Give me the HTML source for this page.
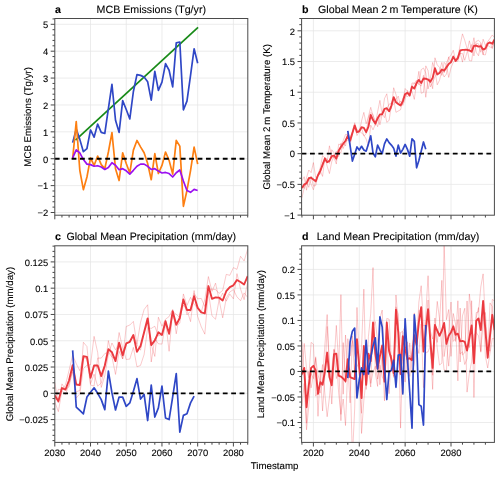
<!DOCTYPE html><html><head><meta charset="utf-8"><style>html,body{margin:0;padding:0;background:#fff;width:500px;height:477px;overflow:hidden}svg{display:block;will-change:transform} text{text-rendering:geometricPrecision;stroke:#000;stroke-width:0.1px}</style></head><body><svg width="500" height="477" viewBox="0 0 500 477" font-family='"Liberation Sans", sans-serif' fill="#000">
<rect width="500" height="477" fill="#ffffff"/>
<path d="M90.52 18.50V215.20M126.24 18.50V215.20M161.96 18.50V215.20M197.68 18.50V215.20M233.40 18.50V215.20M54.80 212.50H247.80M54.80 185.61H247.80M54.80 158.73H247.80M54.80 131.84H247.80M54.80 104.96H247.80M54.80 78.07H247.80M54.80 51.19H247.80M54.80 24.30H247.80" stroke="#e6e6e6" stroke-width="0.75" fill="none"/>
<clipPath id="ca"><rect x="54.8" y="18.5" width="193.00" height="196.70"/></clipPath>
<path d="M75.52 140.18 L198.04 27.26" stroke="#178a17" stroke-width="1.7" fill="none" stroke-linejoin="round" stroke-linecap="butt" clip-path="url(#ca)" />
<path d="M72.66 142.60 L76.23 129.15 L79.80 139.37 L83.38 151.74 L86.95 148.51 L90.52 129.96 L94.09 137.22 L97.66 124.05 L101.24 132.38 L104.81 133.46 L108.38 108.72 L111.95 84.26 L115.52 120.28 L119.10 132.38 L122.67 100.66 L126.24 109.53 L129.81 118.94 L133.38 91.51 L136.96 74.58 L140.53 75.38 L144.10 77.00 L147.67 81.84 L151.24 100.12 L154.82 71.35 L158.39 90.44 L161.96 82.10 L165.53 63.55 L169.10 70.27 L172.68 86.94 L176.25 42.85 L179.82 42.04 L183.39 109.80 L186.96 101.19 L190.54 75.38 L194.11 48.77 L197.68 63.28" stroke="#2f47c6" stroke-width="1.7" fill="none" stroke-linejoin="round" stroke-linecap="butt" clip-path="url(#ca)" />
<path d="M72.66 158.73 L76.23 121.63 L79.80 170.29 L83.38 189.65 L86.95 177.01 L90.52 157.92 L94.09 165.45 L97.66 156.04 L101.24 164.64 L104.81 168.68 L108.38 152.01 L111.95 132.65 L115.52 168.68 L119.10 180.51 L122.67 152.81 L126.24 163.57 L129.81 172.98 L133.38 150.13 L136.96 140.45 L140.53 146.90 L144.10 152.81 L147.67 163.57 L151.24 179.70 L154.82 153.62 L158.39 173.52 L161.96 165.45 L165.53 152.01 L169.10 160.34 L172.68 174.05 L176.25 140.45 L179.82 146.09 L183.39 206.32 L186.96 190.45 L190.54 170.56 L194.11 147.17 L197.68 164.11" stroke="#fd7f12" stroke-width="1.7" fill="none" stroke-linejoin="round" stroke-linecap="butt" clip-path="url(#ca)" />
<path d="M72.66 157.92 L76.23 149.86 L79.80 152.81 L83.38 159.54 L86.95 164.11 L90.52 164.64 L94.09 166.26 L97.66 165.72 L101.24 167.06 L104.81 169.48 L108.38 167.60 L111.95 162.76 L115.52 165.18 L119.10 169.75 L122.67 168.68 L126.24 170.83 L129.81 174.05 L133.38 170.29 L136.96 166.26 L140.53 164.11 L144.10 164.11 L147.67 166.26 L151.24 169.48 L154.82 168.68 L158.39 171.10 L161.96 172.98 L165.53 172.44 L169.10 173.52 L172.68 177.01 L176.25 172.71 L179.82 170.02 L183.39 181.04 L186.96 190.45 L190.54 192.34 L194.11 189.38 L197.68 190.45" stroke="#9b10f0" stroke-width="1.7" fill="none" stroke-linejoin="round" stroke-linecap="butt" clip-path="url(#ca)" />
<path d="M54.8 158.73H247.8" stroke="#000" stroke-width="1.8" stroke-dasharray="4.8 3.6" stroke-dashoffset="0" fill="none"/>
<path d="M54.80 215.20v4.1M90.52 215.20v4.1M126.24 215.20v4.1M161.96 215.20v4.1M197.68 215.20v4.1M233.40 215.20v4.1M61.94 215.20v2.3M69.09 215.20v2.3M76.23 215.20v2.3M83.38 215.20v2.3M97.66 215.20v2.3M104.81 215.20v2.3M111.95 215.20v2.3M119.10 215.20v2.3M133.38 215.20v2.3M140.53 215.20v2.3M147.67 215.20v2.3M154.82 215.20v2.3M169.10 215.20v2.3M176.25 215.20v2.3M183.39 215.20v2.3M190.54 215.20v2.3M204.82 215.20v2.3M211.97 215.20v2.3M219.11 215.20v2.3M226.26 215.20v2.3M240.54 215.20v2.3M247.69 215.20v2.3M54.80 212.50h-4.1M54.80 185.61h-4.1M54.80 158.73h-4.1M54.80 131.84h-4.1M54.80 104.96h-4.1M54.80 78.07h-4.1M54.80 51.19h-4.1M54.80 24.30h-4.1M54.80 207.12h-2.3M54.80 201.75h-2.3M54.80 196.37h-2.3M54.80 190.99h-2.3M54.80 180.24h-2.3M54.80 174.86h-2.3M54.80 169.48h-2.3M54.80 164.11h-2.3M54.80 153.35h-2.3M54.80 147.97h-2.3M54.80 142.60h-2.3M54.80 137.22h-2.3M54.80 126.47h-2.3M54.80 121.09h-2.3M54.80 115.71h-2.3M54.80 110.33h-2.3M54.80 99.58h-2.3M54.80 94.20h-2.3M54.80 88.83h-2.3M54.80 83.45h-2.3M54.80 72.69h-2.3M54.80 67.32h-2.3M54.80 61.94h-2.3M54.80 56.56h-2.3M54.80 45.81h-2.3M54.80 40.43h-2.3M54.80 35.05h-2.3M54.80 29.68h-2.3M54.80 18.92h-2.3" stroke="#333333" stroke-width="0.9" fill="none"/>
<rect x="54.8" y="18.5" width="193.00" height="196.70" stroke="#4a4a4a" stroke-width="1.0" fill="none"/>
<text x="48.20" y="216.30" text-anchor="end" font-size="9.4">−2</text>
<text x="48.20" y="189.41" text-anchor="end" font-size="9.4">−1</text>
<text x="48.20" y="162.53" text-anchor="end" font-size="9.4">0</text>
<text x="48.20" y="135.64" text-anchor="end" font-size="9.4">1</text>
<text x="48.20" y="108.76" text-anchor="end" font-size="9.4">2</text>
<text x="48.20" y="81.87" text-anchor="end" font-size="9.4">3</text>
<text x="48.20" y="54.99" text-anchor="end" font-size="9.4">4</text>
<text x="48.20" y="28.10" text-anchor="end" font-size="9.4">5</text>
<text x="55.10" y="12.90" font-size="10.65" font-weight="bold">a</text>
<text x="151.30" y="12.90" text-anchor="middle" font-size="10.65">MCB Emissions (Tg/yr)</text>
<text transform="translate(31.40,116.85) rotate(-90)" text-anchor="middle" font-size="9.7">MCB Emissions (Tg/yr)</text>
<path d="M313.40 18.50V215.20M359.27 18.50V215.20M405.13 18.50V215.20M451.00 18.50V215.20M301.60 184.38H494.40M301.60 153.67H494.40M301.60 122.95H494.40M301.60 92.23H494.40M301.60 61.52H494.40M301.60 30.80H494.40" stroke="#e6e6e6" stroke-width="0.75" fill="none"/>
<clipPath id="cb"><rect x="301.6" y="18.5" width="192.80" height="196.70"/></clipPath>
<path d="M301.93 197.85 L304.23 187.84 L306.52 182.18 L308.81 187.34 L311.11 176.19 L313.40 186.04 L315.69 185.62 L317.99 175.41 L320.28 174.12 L322.57 162.46 L324.87 160.56 L327.16 161.70 L329.45 145.82 L331.75 157.05 L334.04 157.66 L336.33 164.04 L338.63 144.19 L340.92 144.80 L343.21 140.61 L345.51 134.52 L347.80 134.51 L350.09 144.81 L352.39 134.43 L354.68 125.48 L356.97 135.54 L359.27 131.23 L361.56 132.78 L363.85 135.27 L366.15 138.97 L368.44 146.27 L370.73 125.15 L373.03 129.84 L375.32 124.22 L377.61 111.87 L379.91 100.37 L382.20 114.54 L384.49 98.47 L386.79 93.79 L389.08 109.14 L391.37 109.10 L393.67 87.74 L395.96 94.51 L398.25 104.60 L400.55 100.95 L402.84 105.35 L405.13 99.22 L407.43 90.48 L409.72 96.93 L412.01 85.79 L414.31 83.18 L416.60 80.09 L418.89 83.89 L421.19 86.13 L423.48 75.34 L425.77 97.28 L428.07 79.04 L430.36 79.76 L432.65 88.73 L434.95 57.78 L437.24 64.85 L439.53 67.44 L441.83 75.45 L444.12 62.31 L446.41 64.93 L448.71 77.45 L451.00 67.97 L453.29 62.17 L455.59 60.97 L457.88 57.27 L460.17 44.75 L462.47 33.89 L464.76 40.41 L467.05 48.40 L469.35 60.58 L471.64 60.97 L473.93 43.83 L476.23 41.32 L478.52 40.36 L480.81 42.61 L483.11 54.69 L485.40 45.62 L487.69 41.65 L489.99 38.45 L492.28 34.98 L494.57 37.64" stroke="#eb3a40" stroke-width="0.6" fill="none" stroke-linejoin="round" stroke-linecap="butt" stroke-opacity="0.45" clip-path="url(#cb)" />
<path d="M301.93 185.55 L304.23 188.57 L306.52 177.74 L308.81 170.00 L311.11 172.61 L313.40 162.58 L315.69 177.78 L317.99 175.65 L320.28 171.00 L322.57 176.41 L324.87 157.25 L327.16 166.21 L329.45 173.57 L331.75 161.59 L334.04 156.15 L336.33 151.31 L338.63 156.72 L340.92 143.13 L343.21 148.49 L345.51 141.77 L347.80 140.08 L350.09 140.16 L352.39 132.91 L354.68 127.99 L356.97 129.60 L359.27 130.68 L361.56 128.02 L363.85 135.94 L366.15 133.69 L368.44 116.48 L370.73 107.33 L373.03 115.89 L375.32 121.07 L377.61 126.70 L379.91 117.83 L382.20 113.61 L384.49 117.65 L386.79 108.62 L389.08 104.24 L391.37 103.02 L393.67 99.37 L395.96 112.34 L398.25 111.01 L400.55 109.75 L402.84 100.79 L405.13 88.57 L407.43 91.11 L409.72 94.83 L412.01 82.97 L414.31 83.08 L416.60 85.86 L418.89 71.32 L421.19 93.27 L423.48 92.36 L425.77 65.85 L428.07 70.64 L430.36 86.95 L432.65 82.51 L434.95 76.68 L437.24 73.56 L439.53 71.35 L441.83 62.38 L444.12 72.89 L446.41 63.09 L448.71 57.62 L451.00 55.24 L453.29 50.26 L455.59 60.07 L457.88 55.67 L460.17 53.62 L462.47 53.55 L464.76 60.32 L467.05 52.22 L469.35 40.80 L471.64 49.60 L473.93 37.74 L476.23 52.29 L478.52 55.77 L480.81 43.59 L483.11 54.62 L485.40 54.92 L487.69 45.15 L489.99 47.11 L492.28 47.43 L494.57 41.11" stroke="#eb3a40" stroke-width="0.6" fill="none" stroke-linejoin="round" stroke-linecap="butt" stroke-opacity="0.45" clip-path="url(#cb)" />
<path d="M301.93 180.81 L304.23 176.73 L306.52 190.19 L308.81 177.38 L311.11 184.26 L313.40 189.79 L315.69 180.54 L317.99 174.72 L320.28 167.48 L322.57 155.69 L324.87 157.93 L327.16 158.89 L329.45 163.43 L331.75 149.73 L334.04 152.86 L336.33 160.39 L338.63 151.65 L340.92 152.80 L343.21 142.18 L345.51 146.01 L347.80 132.97 L350.09 137.32 L352.39 131.83 L354.68 122.76 L356.97 131.35 L359.27 132.07 L361.56 120.95 L363.85 112.38 L366.15 123.83 L368.44 117.10 L370.73 112.41 L373.03 114.44 L375.32 125.41 L377.61 116.72 L379.91 124.85 L382.20 114.54 L384.49 110.34 L386.79 122.32 L389.08 120.45 L391.37 105.45 L393.67 104.33 L395.96 99.65 L398.25 96.11 L400.55 105.76 L402.84 98.21 L405.13 94.48 L407.43 96.96 L409.72 94.16 L412.01 91.35 L414.31 99.38 L416.60 82.40 L418.89 84.63 L421.19 69.66 L423.48 67.99 L425.77 73.02 L428.07 88.95 L430.36 78.67 L432.65 62.45 L434.95 70.36 L437.24 84.84 L439.53 80.24 L441.83 70.68 L444.12 77.00 L446.41 74.08 L448.71 56.85 L451.00 63.19 L453.29 57.38 L455.59 61.66 L457.88 61.19 L460.17 53.01 L462.47 62.10 L464.76 48.81 L467.05 48.91 L469.35 50.00 L471.64 44.50 L473.93 55.96 L476.23 43.03 L478.52 43.85 L480.81 52.27 L483.11 39.21 L485.40 45.30 L487.69 43.98 L489.99 41.86 L492.28 48.69 L494.57 39.45" stroke="#eb3a40" stroke-width="0.6" fill="none" stroke-linejoin="round" stroke-linecap="butt" stroke-opacity="0.45" clip-path="url(#cb)" />
<path d="M301.93 188.07 L304.23 184.38 L306.52 183.37 L308.81 178.24 L311.11 177.69 L313.40 179.47 L315.69 181.31 L317.99 175.26 L320.28 170.87 L322.57 164.85 L324.87 158.58 L327.16 162.27 L329.45 160.94 L331.75 156.12 L334.04 155.55 L336.33 158.58 L338.63 150.85 L340.92 146.91 L343.21 143.76 L345.51 140.77 L347.80 135.85 L350.09 140.77 L352.39 133.06 L354.68 125.41 L356.97 132.16 L359.27 131.33 L361.56 127.25 L363.85 127.86 L366.15 132.16 L368.44 126.62 L370.73 114.96 L373.03 120.06 L375.32 123.56 L377.61 118.43 L379.91 114.35 L382.20 114.23 L384.49 108.82 L386.79 108.24 L389.08 111.28 L391.37 105.86 L393.67 97.15 L395.96 102.17 L398.25 103.91 L400.55 105.49 L402.84 101.45 L405.13 94.09 L407.43 92.85 L409.72 95.30 L412.01 86.70 L414.31 88.55 L416.60 82.78 L418.89 79.95 L421.19 83.02 L423.48 78.56 L425.77 78.72 L428.07 79.54 L430.36 81.79 L432.65 77.89 L434.95 68.27 L437.24 74.42 L439.53 73.01 L441.83 69.50 L444.12 70.73 L446.41 67.37 L448.71 63.97 L451.00 62.13 L453.29 56.60 L455.59 60.90 L457.88 58.04 L460.17 50.46 L462.47 49.84 L464.76 49.84 L467.05 49.84 L469.35 50.46 L471.64 51.69 L473.93 45.84 L476.23 45.54 L478.52 46.66 L480.81 46.16 L483.11 49.51 L485.40 48.62 L487.69 43.59 L489.99 42.47 L492.28 43.70 L494.57 39.40" stroke="#eb3a40" stroke-width="1.9" fill="none" stroke-linejoin="round" stroke-linecap="butt" clip-path="url(#cb)" />
<path d="M347.80 130.94 L350.09 145.68 L352.39 161.04 L354.68 154.28 L356.97 146.91 L359.27 149.98 L361.56 146.29 L363.85 149.98 L366.15 151.21 L368.44 143.84 L370.73 135.85 L373.03 153.05 L375.32 156.74 L377.61 145.07 L379.91 149.98 L382.20 153.67 L384.49 143.84 L386.79 138.92 L389.08 142.61 L391.37 145.07 L393.67 148.14 L395.96 156.12 L398.25 145.07 L400.55 153.05 L402.84 149.37 L405.13 144.45 L407.43 149.37 L409.72 156.12 L412.01 138.92 L414.31 141.38 L416.60 167.80 L418.89 160.42 L421.19 151.21 L423.48 141.99 L425.77 149.37" stroke="#2f47c6" stroke-width="1.7" fill="none" stroke-linejoin="round" stroke-linecap="butt" clip-path="url(#cb)" />
<path d="M301.6 153.67H494.4" stroke="#000" stroke-width="1.8" stroke-dasharray="4.8 3.6" fill="none"/>
<path d="M313.40 215.20v4.1M359.27 215.20v4.1M405.13 215.20v4.1M451.00 215.20v4.1M301.93 215.20v2.3M324.87 215.20v2.3M336.33 215.20v2.3M347.80 215.20v2.3M370.73 215.20v2.3M382.20 215.20v2.3M393.67 215.20v2.3M416.60 215.20v2.3M428.07 215.20v2.3M439.53 215.20v2.3M462.47 215.20v2.3M473.93 215.20v2.3M485.40 215.20v2.3M301.60 215.10h-4.1M301.60 184.38h-4.1M301.60 153.67h-4.1M301.60 122.95h-4.1M301.60 92.23h-4.1M301.60 61.52h-4.1M301.60 30.80h-4.1M301.60 208.96h-2.3M301.60 202.81h-2.3M301.60 196.67h-2.3M301.60 190.53h-2.3M301.60 178.24h-2.3M301.60 172.10h-2.3M301.60 165.95h-2.3M301.60 159.81h-2.3M301.60 147.52h-2.3M301.60 141.38h-2.3M301.60 135.24h-2.3M301.60 129.09h-2.3M301.60 116.81h-2.3M301.60 110.66h-2.3M301.60 104.52h-2.3M301.60 98.38h-2.3M301.60 86.09h-2.3M301.60 79.95h-2.3M301.60 73.80h-2.3M301.60 67.66h-2.3M301.60 55.37h-2.3M301.60 49.23h-2.3M301.60 43.09h-2.3M301.60 36.94h-2.3M301.60 24.66h-2.3M301.60 18.51h-2.3" stroke="#333333" stroke-width="0.9" fill="none"/>
<rect x="301.6" y="18.5" width="192.80" height="196.70" stroke="#4a4a4a" stroke-width="1.0" fill="none"/>
<text x="295.00" y="218.90" text-anchor="end" font-size="9.4">−1</text>
<text x="295.00" y="188.18" text-anchor="end" font-size="9.4">−0.5</text>
<text x="295.00" y="157.47" text-anchor="end" font-size="9.4">0</text>
<text x="295.00" y="126.75" text-anchor="end" font-size="9.4">0.5</text>
<text x="295.00" y="96.03" text-anchor="end" font-size="9.4">1</text>
<text x="295.00" y="65.32" text-anchor="end" font-size="9.4">1.5</text>
<text x="295.00" y="34.60" text-anchor="end" font-size="9.4">2</text>
<text x="301.90" y="12.90" font-size="10.65" font-weight="bold">b</text>
<text x="398.00" y="12.90" text-anchor="middle" font-size="10.65">Global Mean 2 m Temperature (K)</text>
<text transform="translate(269.60,116.85) rotate(-90)" text-anchor="middle" font-size="9.7">Global Mean 2 m Temperature (K)</text>
<path d="M90.52 245.80V442.40M126.24 245.80V442.40M161.96 245.80V442.40M197.68 245.80V442.40M233.40 245.80V442.40M54.80 419.58H247.80M54.80 393.30H247.80M54.80 367.02H247.80M54.80 340.74H247.80M54.80 314.46H247.80M54.80 288.18H247.80M54.80 261.90H247.80" stroke="#e6e6e6" stroke-width="0.75" fill="none"/>
<clipPath id="cc"><rect x="54.8" y="245.8" width="193.00" height="196.60"/></clipPath>
<path d="M54.80 401.87 L58.37 411.63 L61.94 390.53 L65.52 394.49 L69.09 383.76 L72.66 371.84 L76.23 398.01 L79.80 393.88 L83.38 368.71 L86.95 365.18 L90.52 364.81 L94.09 336.36 L97.66 352.41 L101.24 387.45 L104.81 375.55 L108.38 354.65 L111.95 342.97 L115.52 349.84 L119.10 344.05 L122.67 358.76 L126.24 344.45 L129.81 341.21 L133.38 336.34 L136.96 344.26 L140.53 322.40 L144.10 309.57 L147.67 304.79 L151.24 361.98 L154.82 338.56 L158.39 343.78 L161.96 344.12 L165.53 324.13 L169.10 333.53 L172.68 313.22 L176.25 325.79 L179.82 323.14 L183.39 293.93 L186.96 305.35 L190.54 297.36 L194.11 304.49 L197.68 308.02 L201.25 311.88 L204.82 299.59 L208.40 276.58 L211.97 291.45 L215.54 283.15 L219.11 299.86 L222.68 293.16 L226.26 301.17 L229.83 294.10 L233.40 298.81 L236.97 273.67 L240.54 288.97 L244.12 299.62 L247.69 281.91" stroke="#eb3a40" stroke-width="0.6" fill="none" stroke-linejoin="round" stroke-linecap="butt" stroke-opacity="0.45" clip-path="url(#cc)" />
<path d="M54.80 401.55 L58.37 389.28 L61.94 389.75 L65.52 384.82 L69.09 370.28 L72.66 354.92 L76.23 363.55 L79.80 370.66 L83.38 357.90 L86.95 358.74 L90.52 385.04 L94.09 386.09 L97.66 358.10 L101.24 358.11 L104.81 353.58 L108.38 352.22 L111.95 357.09 L115.52 358.84 L119.10 332.51 L122.67 347.98 L126.24 359.51 L129.81 359.10 L133.38 347.40 L136.96 366.86 L140.53 365.39 L144.10 354.57 L147.67 327.62 L151.24 328.41 L154.82 326.26 L158.39 336.00 L161.96 334.54 L165.53 320.54 L169.10 351.30 L172.68 311.28 L176.25 314.37 L179.82 317.63 L183.39 305.17 L186.96 309.98 L190.54 321.64 L194.11 293.48 L197.68 298.79 L201.25 298.43 L204.82 306.47 L208.40 289.40 L211.97 289.14 L215.54 289.59 L219.11 293.33 L222.68 290.45 L226.26 274.40 L229.83 275.31 L233.40 267.61 L236.97 269.36 L240.54 256.28 L244.12 260.95 L247.69 249.03" stroke="#eb3a40" stroke-width="0.6" fill="none" stroke-linejoin="round" stroke-linecap="butt" stroke-opacity="0.45" clip-path="url(#cc)" />
<path d="M54.80 382.78 L58.37 402.65 L61.94 383.85 L65.52 389.23 L69.09 386.75 L72.66 368.93 L76.23 391.86 L79.80 390.45 L83.38 342.28 L86.95 346.56 L90.52 383.69 L94.09 374.20 L97.66 386.14 L101.24 382.94 L104.81 367.21 L108.38 340.59 L111.95 356.85 L115.52 374.41 L119.10 351.34 L122.67 359.00 L126.24 326.46 L129.81 325.06 L133.38 321.44 L136.96 344.53 L140.53 350.20 L144.10 332.86 L147.67 322.64 L151.24 344.76 L154.82 356.45 L158.39 317.21 L161.96 326.21 L165.53 319.20 L169.10 316.57 L172.68 309.42 L176.25 333.82 L179.82 313.02 L183.39 299.18 L186.96 314.81 L190.54 311.14 L194.11 290.55 L197.68 316.70 L201.25 326.77 L204.82 334.17 L208.40 292.25 L211.97 315.80 L215.54 319.24 L219.11 299.74 L222.68 317.82 L226.26 298.11 L229.83 291.97 L233.40 289.60 L236.97 296.91 L240.54 300.68 L244.12 292.94 L247.69 297.34" stroke="#eb3a40" stroke-width="0.6" fill="none" stroke-linejoin="round" stroke-linecap="butt" stroke-opacity="0.45" clip-path="url(#cc)" />
<path d="M54.80 395.40 L58.37 401.18 L61.94 388.04 L65.52 389.52 L69.09 380.27 L72.66 365.23 L76.23 384.47 L79.80 385.00 L83.38 356.30 L86.95 356.82 L90.52 377.85 L94.09 365.55 L97.66 365.55 L101.24 376.17 L104.81 365.44 L108.38 349.15 L111.95 352.30 L115.52 361.03 L119.10 342.63 L122.67 355.25 L126.24 343.47 L129.81 341.79 L133.38 335.06 L136.96 351.88 L140.53 346.00 L144.10 332.33 L147.67 318.35 L151.24 345.05 L154.82 340.42 L158.39 332.33 L161.96 334.96 L165.53 321.29 L169.10 333.80 L172.68 311.31 L176.25 324.66 L179.82 317.93 L183.39 299.43 L186.96 310.04 L190.54 310.04 L194.11 296.17 L197.68 307.84 L201.25 312.36 L204.82 313.41 L208.40 286.08 L211.97 298.80 L215.54 297.33 L219.11 297.64 L222.68 300.48 L226.26 291.23 L229.83 287.13 L233.40 285.34 L236.97 279.98 L240.54 281.98 L244.12 284.50 L247.69 276.09" stroke="#eb3a40" stroke-width="1.9" fill="none" stroke-linejoin="round" stroke-linecap="butt" clip-path="url(#cc)" />
<path d="M72.66 350.41 L76.23 407.07 L79.80 410.43 L83.38 413.80 L86.95 396.98 L90.52 392.25 L94.09 387.83 L97.66 393.30 L101.24 399.61 L104.81 409.59 L108.38 371.12 L111.95 392.88 L115.52 410.01 L119.10 397.08 L122.67 397.08 L126.24 406.33 L129.81 402.97 L133.38 391.20 L136.96 378.69 L140.53 399.08 L144.10 394.46 L147.67 420.53 L151.24 385.21 L154.82 417.06 L158.39 407.91 L161.96 386.15 L165.53 418.00 L169.10 419.58 L172.68 396.98 L176.25 373.54 L179.82 432.19 L183.39 415.38 L186.96 413.80 L190.54 402.87 L194.11 396.14" stroke="#2f47c6" stroke-width="1.7" fill="none" stroke-linejoin="round" stroke-linecap="butt" clip-path="url(#cc)" />
<path d="M54.8 393.30H247.8" stroke="#000" stroke-width="1.8" stroke-dasharray="4.8 3.6" fill="none"/>
<path d="M54.80 442.40v4.1M90.52 442.40v4.1M126.24 442.40v4.1M161.96 442.40v4.1M197.68 442.40v4.1M233.40 442.40v4.1M61.94 442.40v2.3M69.09 442.40v2.3M76.23 442.40v2.3M83.38 442.40v2.3M97.66 442.40v2.3M104.81 442.40v2.3M111.95 442.40v2.3M119.10 442.40v2.3M133.38 442.40v2.3M140.53 442.40v2.3M147.67 442.40v2.3M154.82 442.40v2.3M169.10 442.40v2.3M176.25 442.40v2.3M183.39 442.40v2.3M190.54 442.40v2.3M204.82 442.40v2.3M211.97 442.40v2.3M219.11 442.40v2.3M226.26 442.40v2.3M240.54 442.40v2.3M247.69 442.40v2.3M54.80 419.58h-4.1M54.80 393.30h-4.1M54.80 367.02h-4.1M54.80 340.74h-4.1M54.80 314.46h-4.1M54.80 288.18h-4.1M54.80 261.90h-4.1M54.80 440.60h-2.3M54.80 435.35h-2.3M54.80 430.09h-2.3M54.80 424.84h-2.3M54.80 414.32h-2.3M54.80 409.07h-2.3M54.80 403.81h-2.3M54.80 398.56h-2.3M54.80 388.04h-2.3M54.80 382.79h-2.3M54.80 377.53h-2.3M54.80 372.28h-2.3M54.80 361.76h-2.3M54.80 356.51h-2.3M54.80 351.25h-2.3M54.80 346.00h-2.3M54.80 335.48h-2.3M54.80 330.23h-2.3M54.80 324.97h-2.3M54.80 319.72h-2.3M54.80 309.20h-2.3M54.80 303.95h-2.3M54.80 298.69h-2.3M54.80 293.44h-2.3M54.80 282.92h-2.3M54.80 277.67h-2.3M54.80 272.41h-2.3M54.80 267.16h-2.3M54.80 256.64h-2.3M54.80 251.39h-2.3M54.80 246.13h-2.3" stroke="#333333" stroke-width="0.9" fill="none"/>
<rect x="54.8" y="245.8" width="193.00" height="196.60" stroke="#4a4a4a" stroke-width="1.0" fill="none"/>
<text x="48.20" y="423.38" text-anchor="end" font-size="9.4">−0.025</text>
<text x="48.20" y="397.10" text-anchor="end" font-size="9.4">0</text>
<text x="48.20" y="370.82" text-anchor="end" font-size="9.4">0.025</text>
<text x="48.20" y="344.54" text-anchor="end" font-size="9.4">0.05</text>
<text x="48.20" y="318.26" text-anchor="end" font-size="9.4">0.075</text>
<text x="48.20" y="291.98" text-anchor="end" font-size="9.4">0.1</text>
<text x="48.20" y="265.70" text-anchor="end" font-size="9.4">0.125</text>
<text x="54.80" y="455.70" text-anchor="middle" font-size="9.4">2030</text>
<text x="90.52" y="455.70" text-anchor="middle" font-size="9.4">2040</text>
<text x="126.24" y="455.70" text-anchor="middle" font-size="9.4">2050</text>
<text x="161.96" y="455.70" text-anchor="middle" font-size="9.4">2060</text>
<text x="197.68" y="455.70" text-anchor="middle" font-size="9.4">2070</text>
<text x="233.40" y="455.70" text-anchor="middle" font-size="9.4">2080</text>
<text x="55.10" y="240.20" font-size="10.65" font-weight="bold">c</text>
<text x="151.30" y="240.20" text-anchor="middle" font-size="10.65">Global Mean Precipitation (mm/day)</text>
<text transform="translate(12.80,344.10) rotate(-90)" text-anchor="middle" font-size="9.7">Global Mean Precipitation (mm/day)</text>
<path d="M313.40 245.80V442.40M359.27 245.80V442.40M405.13 245.80V442.40M451.00 245.80V442.40M301.60 422.50H494.40M301.60 396.98H494.40M301.60 371.47H494.40M301.60 345.95H494.40M301.60 320.43H494.40M301.60 294.92H494.40M301.60 269.40H494.40" stroke="#e6e6e6" stroke-width="0.75" fill="none"/>
<clipPath id="cd"><rect x="301.6" y="245.8" width="192.80" height="196.60"/></clipPath>
<path d="M301.93 375.80 L304.23 343.43 L306.52 368.57 L308.81 377.82 L311.11 342.45 L313.40 344.02 L315.69 396.17 L317.99 390.35 L320.28 393.10 L322.57 378.73 L324.87 345.26 L327.16 314.56 L329.45 368.28 L331.75 382.01 L334.04 349.80 L336.33 356.83 L338.63 392.48 L340.92 414.39 L343.21 399.06 L345.51 425.53 L347.80 366.40 L350.09 402.83 L352.39 335.90 L354.68 354.53 L356.97 364.23 L359.27 369.40 L361.56 413.30 L363.85 348.40 L366.15 389.51 L368.44 369.76 L370.73 387.06 L373.03 327.79 L375.32 321.59 L377.61 341.30 L379.91 384.74 L382.20 349.15 L384.49 400.84 L386.79 325.84 L389.08 393.70 L391.37 355.19 L393.67 376.09 L395.96 306.78 L398.25 314.17 L400.55 428.10 L402.84 345.74 L405.13 337.31 L407.43 373.45 L409.72 342.91 L412.01 372.72 L414.31 363.88 L416.60 342.54 L418.89 301.97 L421.19 285.72 L423.48 326.03 L425.77 325.17 L428.07 300.01 L430.36 345.70 L432.65 389.37 L434.95 324.04 L437.24 348.15 L439.53 365.03 L441.83 363.23 L444.12 242.28 L446.41 319.74 L448.71 309.52 L451.00 356.36 L453.29 324.73 L455.59 341.41 L457.88 319.51 L460.17 362.00 L462.47 315.80 L464.76 308.28 L467.05 392.12 L469.35 373.30 L471.64 361.53 L473.93 334.89 L476.23 332.58 L478.52 335.80 L480.81 352.19 L483.11 308.96 L485.40 356.37 L487.69 367.97 L489.99 353.17 L492.28 338.58 L494.57 338.76" stroke="#eb3a40" stroke-width="0.6" fill="none" stroke-linejoin="round" stroke-linecap="butt" stroke-opacity="0.45" clip-path="url(#cd)" />
<path d="M301.93 341.77 L304.23 376.88 L306.52 423.22 L308.81 371.58 L311.11 387.82 L313.40 374.89 L315.69 358.37 L317.99 375.10 L320.28 382.22 L322.57 364.50 L324.87 393.69 L327.16 416.69 L329.45 397.35 L331.75 369.66 L334.04 348.93 L336.33 378.56 L338.63 371.81 L340.92 294.66 L343.21 394.21 L345.51 335.01 L347.80 372.54 L350.09 372.26 L352.39 457.88 L354.68 408.90 L356.97 307.44 L359.27 364.09 L361.56 433.46 L363.85 400.32 L366.15 379.41 L368.44 354.60 L370.73 383.33 L373.03 372.05 L375.32 366.21 L377.61 379.06 L379.91 365.26 L382.20 377.12 L384.49 380.71 L386.79 323.12 L389.08 340.32 L391.37 361.96 L393.67 377.46 L395.96 295.00 L398.25 321.86 L400.55 361.42 L402.84 331.70 L405.13 382.12 L407.43 341.77 L409.72 376.46 L412.01 348.95 L414.31 328.91 L416.60 347.59 L418.89 310.49 L421.19 311.75 L423.48 340.95 L425.77 314.23 L428.07 275.72 L430.36 331.16 L432.65 339.02 L434.95 317.99 L437.24 342.41 L439.53 323.38 L441.83 280.34 L444.12 356.59 L446.41 341.35 L448.71 366.15 L451.00 338.12 L453.29 313.52 L455.59 324.18 L457.88 380.82 L460.17 308.05 L462.47 354.93 L464.76 352.82 L467.05 300.96 L469.35 347.66 L471.64 300.72 L473.93 397.46 L476.23 317.68 L478.52 307.52 L480.81 351.24 L483.11 320.30 L485.40 312.49 L487.69 347.39 L489.99 351.15 L492.28 299.41 L494.57 301.11" stroke="#eb3a40" stroke-width="0.6" fill="none" stroke-linejoin="round" stroke-linecap="butt" stroke-opacity="0.45" clip-path="url(#cd)" />
<path d="M301.93 406.02 L304.23 383.38 L306.52 429.78 L308.81 406.33 L311.11 373.42 L313.40 378.64 L315.69 356.80 L317.99 416.31 L320.28 371.23 L322.57 410.97 L324.87 375.45 L327.16 326.50 L329.45 365.61 L331.75 404.06 L334.04 363.62 L336.33 325.42 L338.63 362.36 L340.92 420.66 L343.21 342.57 L345.51 382.95 L347.80 338.71 L350.09 356.15 L352.39 340.52 L354.68 373.94 L356.97 346.27 L359.27 367.14 L361.56 347.25 L363.85 289.13 L366.15 385.29 L368.44 336.45 L370.73 313.39 L373.03 267.59 L375.32 373.01 L377.61 386.38 L379.91 318.47 L382.20 310.05 L384.49 363.47 L386.79 318.47 L389.08 319.14 L391.37 360.51 L393.67 365.44 L395.96 327.37 L398.25 360.48 L400.55 332.54 L402.84 331.32 L405.13 326.07 L407.43 362.44 L409.72 355.23 L412.01 359.04 L414.31 312.91 L416.60 344.66 L418.89 353.43 L421.19 324.03 L423.48 387.71 L425.77 352.51 L428.07 351.89 L430.36 345.68 L432.65 375.29 L434.95 333.05 L437.24 301.36 L439.53 318.82 L441.83 348.34 L444.12 370.09 L446.41 370.63 L448.71 331.56 L451.00 302.03 L453.29 341.42 L455.59 338.58 L457.88 300.78 L460.17 354.02 L462.47 351.81 L464.76 364.50 L467.05 358.56 L469.35 293.93 L471.64 314.35 L473.93 357.55 L476.23 312.58 L478.52 311.86 L480.81 286.96 L483.11 273.86 L485.40 323.06 L487.69 357.71 L489.99 302.91 L492.28 306.48 L494.57 350.51" stroke="#eb3a40" stroke-width="0.6" fill="none" stroke-linejoin="round" stroke-linecap="butt" stroke-opacity="0.45" clip-path="url(#cd)" />
<path d="M301.93 374.53 L304.23 367.89 L306.52 407.19 L308.81 385.25 L311.11 367.89 L313.40 365.85 L315.69 370.45 L317.99 393.92 L320.28 382.18 L322.57 384.74 L324.87 371.47 L327.16 352.58 L329.45 377.08 L331.75 385.25 L334.04 354.12 L336.33 353.60 L338.63 375.55 L340.92 376.57 L343.21 378.61 L345.51 381.16 L347.80 359.22 L350.09 377.08 L352.39 378.10 L354.68 379.12 L356.97 339.32 L359.27 366.87 L361.56 398.00 L363.85 345.95 L366.15 384.74 L368.44 353.60 L370.73 361.26 L373.03 322.47 L375.32 353.60 L377.61 368.91 L379.91 356.16 L382.20 345.44 L384.49 381.67 L386.79 322.47 L389.08 351.05 L391.37 359.22 L393.67 373.00 L395.96 309.72 L398.25 332.17 L400.55 374.02 L402.84 336.25 L405.13 348.50 L407.43 359.22 L409.72 358.20 L412.01 360.24 L414.31 335.23 L416.60 344.93 L418.89 321.96 L421.19 307.16 L423.48 351.56 L425.77 330.64 L428.07 309.21 L430.36 340.85 L432.65 367.89 L434.95 325.03 L437.24 330.64 L439.53 335.74 L441.83 330.64 L444.12 322.99 L446.41 343.91 L448.71 335.74 L451.00 332.17 L453.29 326.56 L455.59 334.72 L457.88 333.70 L460.17 341.36 L462.47 340.85 L464.76 341.87 L467.05 350.54 L469.35 338.29 L471.64 325.54 L473.93 363.30 L476.23 320.94 L478.52 318.39 L480.81 330.13 L483.11 301.04 L485.40 330.64 L487.69 357.69 L489.99 335.74 L492.28 314.82 L494.57 330.13" stroke="#eb3a40" stroke-width="1.9" fill="none" stroke-linejoin="round" stroke-linecap="butt" clip-path="url(#cd)" />
<path d="M347.80 378.10 L350.09 341.87 L352.39 331.15 L354.68 328.09 L356.97 398.00 L359.27 379.63 L361.56 367.89 L363.85 374.53 L366.15 340.34 L368.44 374.02 L370.73 357.69 L373.03 345.95 L375.32 337.78 L377.61 368.91 L379.91 316.86 L382.20 327.07 L384.49 366.87 L386.79 399.53 L389.08 371.47 L391.37 370.45 L393.67 360.24 L395.96 387.29 L398.25 355.14 L400.55 354.63 L402.84 393.92 L405.13 318.90 L407.43 358.71 L409.72 391.88 L412.01 428.11 L414.31 314.82 L416.60 340.85 L418.89 404.64 L421.19 406.17 L423.48 425.05 L425.77 325.03" stroke="#2f47c6" stroke-width="1.7" fill="none" stroke-linejoin="round" stroke-linecap="butt" clip-path="url(#cd)" />
<path d="M301.6 371.47H494.4" stroke="#000" stroke-width="1.8" stroke-dasharray="4.8 3.6" fill="none"/>
<path d="M313.40 442.40v4.1M359.27 442.40v4.1M405.13 442.40v4.1M451.00 442.40v4.1M301.93 442.40v2.3M324.87 442.40v2.3M336.33 442.40v2.3M347.80 442.40v2.3M370.73 442.40v2.3M382.20 442.40v2.3M393.67 442.40v2.3M416.60 442.40v2.3M428.07 442.40v2.3M439.53 442.40v2.3M462.47 442.40v2.3M473.93 442.40v2.3M485.40 442.40v2.3M301.60 422.50h-4.1M301.60 396.98h-4.1M301.60 371.47h-4.1M301.60 345.95h-4.1M301.60 320.43h-4.1M301.60 294.92h-4.1M301.60 269.40h-4.1M301.60 437.81h-2.3M301.60 432.71h-2.3M301.60 427.60h-2.3M301.60 417.40h-2.3M301.60 412.29h-2.3M301.60 407.19h-2.3M301.60 402.09h-2.3M301.60 391.88h-2.3M301.60 386.78h-2.3M301.60 381.67h-2.3M301.60 376.57h-2.3M301.60 366.36h-2.3M301.60 361.26h-2.3M301.60 356.16h-2.3M301.60 351.05h-2.3M301.60 340.85h-2.3M301.60 335.74h-2.3M301.60 330.64h-2.3M301.60 325.54h-2.3M301.60 315.33h-2.3M301.60 310.23h-2.3M301.60 305.12h-2.3M301.60 300.02h-2.3M301.60 289.81h-2.3M301.60 284.71h-2.3M301.60 279.61h-2.3M301.60 274.50h-2.3M301.60 264.30h-2.3M301.60 259.19h-2.3M301.60 254.09h-2.3M301.60 248.99h-2.3" stroke="#333333" stroke-width="0.9" fill="none"/>
<rect x="301.6" y="245.8" width="192.80" height="196.60" stroke="#4a4a4a" stroke-width="1.0" fill="none"/>
<text x="295.00" y="426.30" text-anchor="end" font-size="9.4">−0.1</text>
<text x="295.00" y="400.78" text-anchor="end" font-size="9.4">−0.05</text>
<text x="295.00" y="375.27" text-anchor="end" font-size="9.4">0</text>
<text x="295.00" y="349.75" text-anchor="end" font-size="9.4">0.05</text>
<text x="295.00" y="324.23" text-anchor="end" font-size="9.4">0.1</text>
<text x="295.00" y="298.72" text-anchor="end" font-size="9.4">0.15</text>
<text x="295.00" y="273.20" text-anchor="end" font-size="9.4">0.2</text>
<text x="313.40" y="455.70" text-anchor="middle" font-size="9.4">2020</text>
<text x="359.27" y="455.70" text-anchor="middle" font-size="9.4">2040</text>
<text x="405.13" y="455.70" text-anchor="middle" font-size="9.4">2060</text>
<text x="451.00" y="455.70" text-anchor="middle" font-size="9.4">2080</text>
<text x="301.90" y="240.20" font-size="10.65" font-weight="bold">d</text>
<text x="398.00" y="240.20" text-anchor="middle" font-size="10.65">Land Mean Precipitation (mm/day)</text>
<text transform="translate(263.50,344.10) rotate(-90)" text-anchor="middle" font-size="9.7">Land Mean Precipitation (mm/day)</text>
<text x="274.6" y="469.0" text-anchor="middle" font-size="9.7">Timestamp</text>
</svg></body></html>
